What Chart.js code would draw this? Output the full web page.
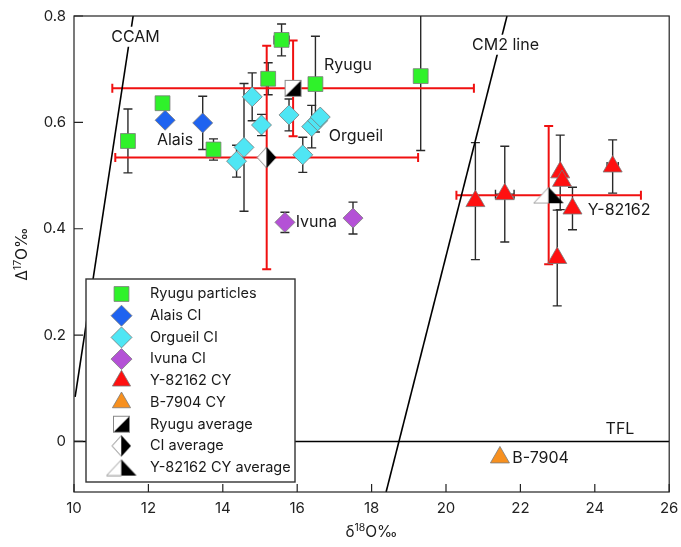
<!DOCTYPE html>
<html><head><meta charset="utf-8">
<script src="https://cdn.jsdelivr.net/npm/chart.js@4/dist/chart.umd.min.js"></script>
<style>html,body{margin:0;padding:0;background:#fff}#wrap{width:681px;height:547px}</style>
</head><body><div id="wrap"><canvas id="c" width="681" height="547"></canvas></div>
<script>
// ---------- data ----------
const xTicks = [10, 12, 14, 16, 18, 20, 22, 24, 26];
const yTicks = [0, 0.2, 0.4, 0.6, 0.8];
const yTickLabels = ['0', '0.2', '0.4', '0.6', '0.8'];

const ryuguX    = [11.45, 12.38, 13.75, 15.22, 15.58, 16.49, 19.32];
const ryuguY    = [0.565, 0.636, 0.549, 0.682, 0.755, 0.672, 0.687];
const ryuguYErr = [0.06, 0, 0.02, 0.03, 0.03, 0.09, 0.14];
const ryuguXErr = [0, 0, 0, 0, 0.2, 0, 0];

const alaisX    = [12.45, 13.46];
const alaisY    = [0.604, 0.599];
const alaisYErr = [0, 0.05];

const orgueilX    = [14.79, 15.04, 14.57, 14.37, 15.78, 16.15, 16.39, 16.55, 16.62];
const orgueilY    = [0.648, 0.595, 0.553, 0.527, 0.614, 0.539, 0.592, 0.603, 0.610];
const orgueilYErr = [0.045, 0.02, 0.12, 0.03, 0.03, 0.033, 0.04, 0, 0];

const ivunaX    = [15.67, 17.50];
const ivunaY    = [0.412, 0.420];
const ivunaYErr = [0.019, 0.03];

const y82X    = [20.79, 21.58, 23.07, 23.12, 23.40, 24.48, 22.99];
const y82Y    = [0.452, 0.465, 0.506, 0.490, 0.438, 0.517, 0.345];
const y82YErr = [0.11, 0.09, 0.07, 0, 0.04, 0.05, 0.09];
const y82XErr = [0, 0.25, 0, 0, 0, 0.15, 0];

const b7904X = [21.45];
const b7904Y = [-0.03];

const avgNames = ['Ryugu average', 'CI average', 'Y-82162 CY average'];
const avgX    = [15.89, 15.18, 22.76];
const avgY    = [0.664, 0.534, 0.463];
const avgXErr = [4.86, 4.07, 2.48];
const avgYErr = [0.09, 0.21, 0.13];

const ccamX = [10.03, 11.59];
const ccamY = [0.084, 0.80];
const cm2X  = [18.39, 21.64];
const cm2Y  = [-0.095, 0.80];
const tflX  = [10, 26];
const tflY  = [0, 0];

// annotation texts (data-unit anchors, left-aligned)
const annTexts = ['CCAM', 'CM2 line', 'TFL', 'Ryugu', 'Alais', 'Orgueil', 'Ivuna', 'Y-82162', 'B-7904'];
const annX     = [11.00, 20.70, 24.29, 16.72, 12.23, 16.85, 15.96, 23.81, 21.78];
const annY     = [0.761, 0.746, 0.024, 0.708, 0.567, 0.574, 0.413, 0.434, -0.031];
const annBg    = [true, true, false, false, false, false, false, false, false];

// ---------- styles ----------
const C = {
  green: '#2ff22a', blue: '#1f63f0', cyan: '#4fe6f4', purple: '#b451d6',
  red: '#ff1010', orange: '#f7901f', edge: '#7a7a7a'
};
const FONT = 'Inter, "Noto Sans", sans-serif';

function pts(xs, ys) { return xs.map((x, i) => ({ x: x, y: ys[i] })); }

function mkCanvas(w, h, fn) {
  const c = document.createElement('canvas');
  c.width = w; c.height = h;
  fn(c.getContext('2d'), w, h);
  return c;
}
const ryuguAvgImg = mkCanvas(19, 19, (g) => {
  g.fillStyle = '#fff'; g.fillRect(1, 1, 17, 17);
  g.fillStyle = '#000'; g.beginPath(); g.moveTo(1, 18); g.lineTo(18, 1); g.lineTo(18, 18); g.closePath(); g.fill();
  g.strokeStyle = '#888'; g.lineWidth = 1; g.strokeRect(1.5, 1.5, 16, 16);
});
const ciAvgImg = mkCanvas(21, 23, (g) => {
  g.fillStyle = '#fff'; g.beginPath(); g.moveTo(10.5, 1); g.lineTo(1, 11.5); g.lineTo(10.5, 22); g.closePath(); g.fill();
  g.strokeStyle = '#888'; g.lineWidth = 1; g.stroke();
  g.fillStyle = '#000'; g.beginPath(); g.moveTo(10.5, 1); g.lineTo(20, 11.5); g.lineTo(10.5, 22); g.closePath(); g.fill();
});
const yAvgImg = mkCanvas(32, 18, (g) => {
  g.fillStyle = '#fff'; g.beginPath(); g.moveTo(16, 1); g.lineTo(1, 17); g.lineTo(16, 17); g.closePath(); g.fill();
  g.strokeStyle = '#999'; g.lineWidth = 1; g.stroke();
  g.fillStyle = '#000'; g.beginPath(); g.moveTo(16, 1); g.lineTo(31, 17); g.lineTo(16, 17); g.closePath(); g.fill();
});
const avgImgs = [ryuguAvgImg, ciAvgImg, yAvgImg];

const series = [
  { label: 'Ryugu particles', x: ryuguX, y: ryuguY, style: 'rect', r: 10.5, color: C.green },
  { label: 'Alais CI', x: alaisX, y: alaisY, style: 'rectRot', r: 10, color: C.blue },
  { label: 'Orgueil CI', x: orgueilX, y: orgueilY, style: 'rectRot', r: 10, color: C.cyan },
  { label: 'Ivuna CI', x: ivunaX, y: ivunaY, style: 'rectRot', r: 10, color: C.purple },
  { label: 'Y-82162 CY', x: y82X, y: y82Y, style: 'triangle', r: 11, color: C.red },
  { label: 'B-7904 CY', x: b7904X, y: b7904Y, style: 'triangle', r: 11, color: C.orange }
];

const datasets = [];
avgNames.forEach((n, i) => {
  datasets.push({ label: n, data: [{ x: avgX[i], y: avgY[i] }], pointStyle: avgImgs[i], pointRadius: 10, order: 0 });
});
series.forEach((s, i) => {
  datasets.push({ label: s.label, data: pts(s.x, s.y), pointStyle: s.style, pointRadius: s.r,
    backgroundColor: s.color, borderColor: C.edge, borderWidth: 0.8, order: 1 + i });
});
[[ccamX, ccamY], [cm2X, cm2Y], [tflX, tflY]].forEach((l, i) => {
  datasets.push({ label: 'line' + i, data: pts(l[0], l[1]), showLine: true, pointRadius: 0,
    borderColor: '#000', borderWidth: 1.6, order: 20 + i });
});

// error bar groups
const blackErr = [
  [ryuguX, ryuguY, ryuguXErr, ryuguYErr],
  [alaisX, alaisY, null, alaisYErr],
  [orgueilX, orgueilY, null, orgueilYErr],
  [ivunaX, ivunaY, null, ivunaYErr],
  [y82X, y82Y, y82XErr, y82YErr]
];
const redErr = [[avgX, avgY, avgXErr, avgYErr]];

function drawErr(ctx, xs, ys, xe, ye, sx, sy, color, lw, cap) {
  ctx.strokeStyle = color; ctx.lineWidth = lw; ctx.lineCap = 'butt';
  for (let i = 0; i < xs.length; i++) {
    const px = sx.getPixelForValue(xs[i]), py = sy.getPixelForValue(ys[i]);
    if (ye && ye[i]) {
      const t = sy.getPixelForValue(ys[i] + ye[i]), b = sy.getPixelForValue(ys[i] - ye[i]);
      ctx.beginPath(); ctx.moveTo(px, t); ctx.lineTo(px, b);
      ctx.moveTo(px - cap, t); ctx.lineTo(px + cap, t);
      ctx.moveTo(px - cap, b); ctx.lineTo(px + cap, b); ctx.stroke();
    }
    if (xe && xe[i]) {
      const l = sx.getPixelForValue(xs[i] - xe[i]), r = sx.getPixelForValue(xs[i] + xe[i]);
      ctx.beginPath(); ctx.moveTo(l, py); ctx.lineTo(r, py);
      ctx.moveTo(l, py - cap); ctx.lineTo(l, py + cap);
      ctx.moveTo(r, py - cap); ctx.lineTo(r, py + cap); ctx.stroke();
    }
  }
}

function supText(ctx, parts, x, y, align) {
  const big = '15.5px ' + FONT, small = '10.5px ' + FONT;
  let w = 0;
  parts.forEach(p => { ctx.font = p[1] ? small : big; w += ctx.measureText(p[0]).width; });
  let cx = align === 'center' ? x - w / 2 : x;
  ctx.textAlign = 'left'; ctx.textBaseline = 'alphabetic';
  parts.forEach(p => {
    ctx.font = p[1] ? small : big;
    ctx.fillText(p[0], cx, p[1] ? y - 6 : y);
    cx += ctx.measureText(p[0]).width;
  });
}

function legendMarker(ctx, kind, x, y) {
  const h = Chart.helpers;
  if (kind.img) { ctx.drawImage(kind.img, x - kind.img.width / 2, y - kind.img.height / 2); return; }
  ctx.fillStyle = kind.color; ctx.strokeStyle = C.edge; ctx.lineWidth = 0.8;
  h.drawPoint(ctx, { pointStyle: kind.style, radius: kind.r, borderWidth: 0.8 }, x, y);
}

const plugin = {
  id: 'custom',
  beforeDatasetsDraw(chart) {
    const ctx = chart.ctx, a = chart.chartArea, sx = chart.scales.x, sy = chart.scales.y;
    ctx.save();
    ctx.beginPath(); ctx.rect(a.left, a.top, a.right - a.left, a.bottom - a.top); ctx.clip();
    blackErr.forEach(g => drawErr(ctx, g[0], g[1], g[2], g[3], sx, sy, '#2a2a2a', 1.4, 4.5));
    redErr.forEach(g => drawErr(ctx, g[0], g[1], g[2], g[3], sx, sy, '#f01010', 2, 4.5));
    ctx.restore();
  },
  afterDatasetsDraw(chart) {
    const ctx = chart.ctx, a = chart.chartArea, sx = chart.scales.x, sy = chart.scales.y;
    ctx.save();
    // annotations
    ctx.font = '16px ' + FONT; ctx.textBaseline = 'middle'; ctx.textAlign = 'left';
    annTexts.forEach((t, i) => {
      const px = sx.getPixelForValue(annX[i]), py = sy.getPixelForValue(annY[i]);
      const w = ctx.measureText(t).width;
      if (annBg[i]) { ctx.fillStyle = '#fff'; ctx.fillRect(px - 3, py - 10, w + 6, 20); }
      ctx.fillStyle = '#1a1a1a'; ctx.fillText(t, px, py);
    });
    // frame
    ctx.strokeStyle = '#222'; ctx.lineWidth = 1.2;
    ctx.strokeRect(a.left, a.top, a.right - a.left, a.bottom - a.top);
    // inward ticks
    ctx.beginPath();
    xTicks.forEach(v => { const p = sx.getPixelForValue(v); ctx.moveTo(p, a.bottom); ctx.lineTo(p, a.bottom - 8); });
    yTicks.forEach(v => { const p = sy.getPixelForValue(v); ctx.moveTo(a.left, p); ctx.lineTo(a.left + 9, p); });
    ctx.stroke();
    // legend
    const L = { x: 86, y: 279, w: 209, h: 203 };
    ctx.fillStyle = '#fff'; ctx.fillRect(L.x, L.y, L.w, L.h);
    ctx.strokeStyle = '#333'; ctx.lineWidth = 1.4; ctx.strokeRect(L.x, L.y, L.w, L.h);
    const items = series.map(s => ({ label: s.label, style: s.style, r: 10.5, color: s.color }))
      .concat(avgNames.map((n, i) => ({ label: n, img: avgImgs[i] })));
    ctx.font = '14.5px ' + FONT; ctx.textBaseline = 'middle'; ctx.textAlign = 'left';
    items.forEach((it, i) => {
      const yy = L.y + 15 + i * 21.7;
      legendMarker(ctx, it, 121.5, yy);
      ctx.fillStyle = '#1a1a1a'; ctx.fillText(it.label, 150, yy);
    });
    // axis titles
    ctx.fillStyle = '#1a1a1a';
    supText(ctx, [['δ', false], ['18', true], ['O‰', false]], (a.left + a.right) / 2, 537, 'center');
    ctx.save(); ctx.translate(27, 254); ctx.rotate(-Math.PI / 2);
    supText(ctx, [['Δ', false], ['17', true], ['O‰', false]], 0, 0, 'center');
    ctx.restore();
    ctx.restore();
  }
};

new Chart(document.getElementById('c'), {
  type: 'scatter',
  data: { datasets: datasets },
  options: {
    responsive: false, animation: false, devicePixelRatio: 1,
    layout: { padding: { left: 0, right: 9, top: 16, bottom: 15 } },
    plugins: { legend: { display: false }, tooltip: { enabled: false } },
    scales: {
      x: {
        type: 'linear', min: 10, max: 26,
        grid: { display: false, drawTicks: false },
        border: { display: false },
        ticks: { stepSize: 2, padding: 7, color: '#222', font: { family: FONT, size: 15 } },
        afterBuildTicks: (s) => { s.ticks = xTicks.map(v => ({ value: v })); },
        afterFit: (s) => { s.height = 40; s.paddingLeft = 0; s.paddingRight = 0; }
      },
      y: {
        type: 'linear', min: -0.095, max: 0.8,
        grid: { display: false, drawTicks: false },
        border: { display: false },
        ticks: { padding: 8, color: '#222', font: { family: FONT, size: 15 },
          callback: (v) => { const i = yTicks.findIndex(t => Math.abs(t - v) < 1e-9); return i >= 0 ? yTickLabels[i] : ''; } },
        afterBuildTicks: (s) => { s.ticks = yTicks.map(v => ({ value: v })); },
        afterFit: (s) => { s.width = 74; s.paddingTop = 0; s.paddingBottom = 0; }
      }
    }
  },
  plugins: [plugin]
});
</script>
</body></html>
